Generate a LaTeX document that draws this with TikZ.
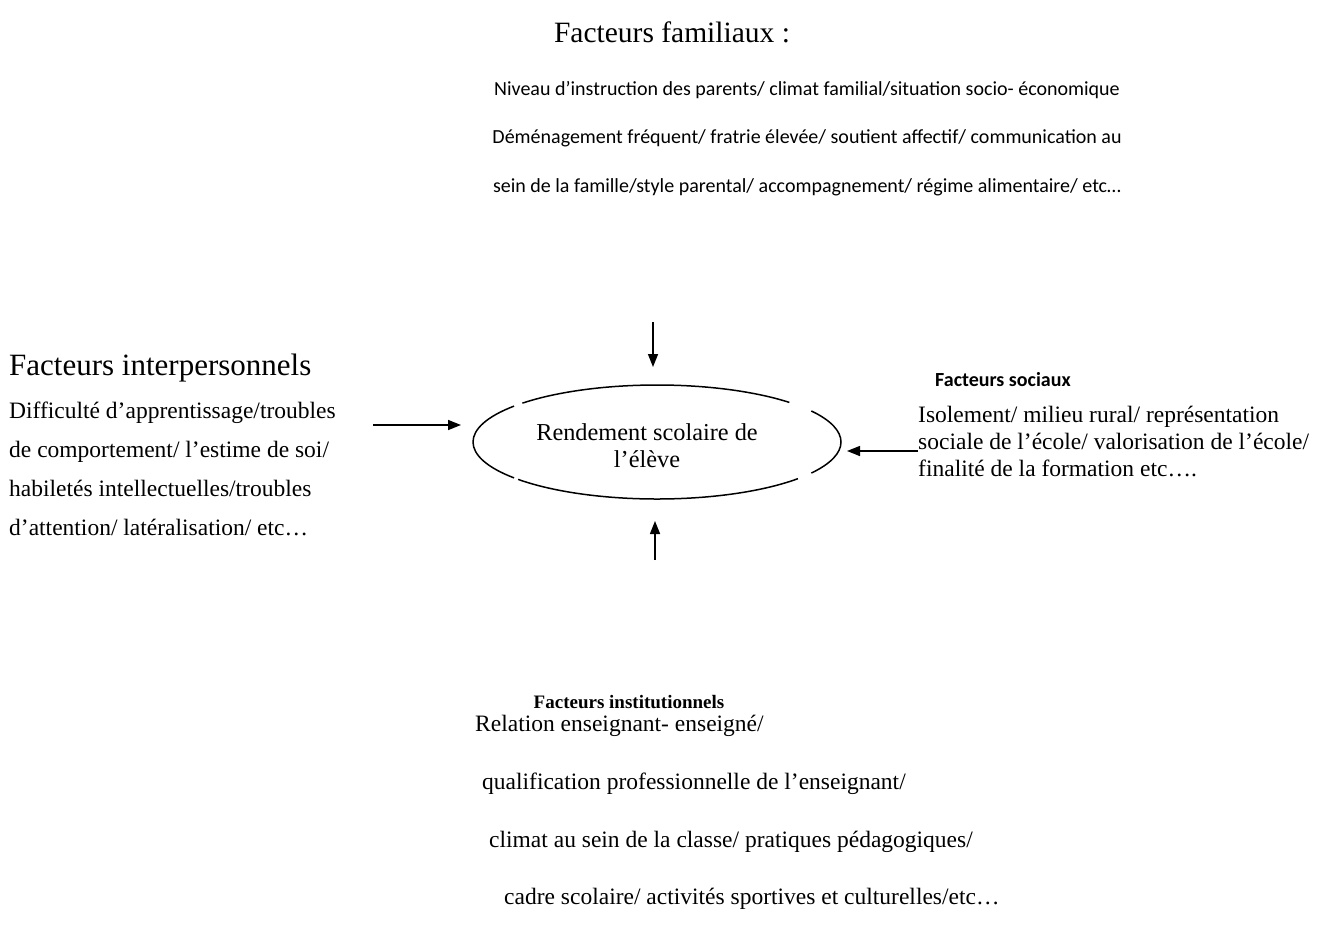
\documentclass[tikz,border=0pt]{standalone}
\usepackage{fontspec}
\setmainfont{Liberation Serif}
\newfontfamily\calfont{Carlito}
\usetikzlibrary{arrows.meta,shapes.geometric,calc}
\begin{document}
\begin{tikzpicture}[x=1pt,y=-1pt,
  txt/.style={inner sep=0pt,anchor=base west,font=\fontsize{23.5}{28}\selectfont},
  cal/.style={inner sep=0pt,anchor=base,font=\calfont\fontsize{20}{24}\selectfont},
  head/.style={inner sep=0pt,anchor=base west,font=\fontsize{31}{36}\selectfont},
  arr/.style={line width=1.5pt,-{Triangle[length=13pt,width=10pt]}},
  ell/.style={line width=1.5pt}]
\useasboundingbox (0,0) rectangle (1333,924);
% top block
\node[inner sep=0pt,anchor=base,font=\fontsize{29.5}{36}\selectfont] (famH) at (672,42) {Facteurs familiaux :};
\node[cal] (fam1) at (807,95) {Niveau d’instruction des parents/ climat familial/situation socio- économique};
\node[cal] (fam2) at (807,143) {Déménagement fréquent/ fratrie élevée/ soutient affectif/ communication au};
\node[cal] (fam3) at (807,192) {sein de la famille/style parental/ accompagnement/ régime alimentaire/ etc…};
% left block
\node[head] (intH) at (9,375) {Facteurs interpersonnels};
\node[txt] (int1) at (9,418) {Difficulté d’apprentissage/troubles};
\node[txt] (int2) at (9,457) {de comportement/ l’estime de soi/};
\node[txt] (int3) at (9,496) {habiletés intellectuelles/troubles};
\node[txt] (int4) at (9,535) {d’attention/ latéralisation/ etc…};
% right block
\node[inner sep=0pt,anchor=base,font=\calfont\bfseries\fontsize{20}{24}\selectfont] (socH) at (1003,386) {Facteurs sociaux};
\node[txt] (soc1) at (918,422) {Isolement/ milieu rural/ représentation};
\node[txt] (soc2) at (918,449) {sociale de l’école/ valorisation de l’école/};
\node[txt] (soc3) at (918,476) {finalité de la formation etc….};
% bottom block
\node[inner sep=0pt,anchor=base,font=\bfseries\fontsize{19}{24}\selectfont] (insH) at (629,708) {Facteurs institutionnels};
\node[txt] (ins1) at (475,731) {Relation enseignant- enseigné/};
\node[txt] (ins2) at (482,789) {qualification professionnelle de l’enseignant/};
\node[txt] (ins3) at (489,847) {climat au sein de la classe/ pratiques pédagogiques/};
\node[txt] (ins4) at (504,904) {cadre scolaire/ activités sportives et culturelles/etc…};
% centre ellipse
\node[ellipse,minimum width=368pt,minimum height=114pt,inner sep=0pt] (perf) at (657,442) {};
\node[inner sep=0pt,align=center,font=\fontsize{24.3}{27}\selectfont] (perfT) at (647,446) {Rendement scolaire de\\l’élève};
\draw[ell] ($(perf.center)+(40:184 and 57)$) arc[start angle=40,end angle=139,x radius=184,y radius=57];
\draw[ell] ($(perf.center)+(141:184 and 57)$) arc[start angle=141,end angle=219,x radius=184,y radius=57];
\draw[ell] ($(perf.center)+(223:184 and 57)$) arc[start angle=223,end angle=316,x radius=184,y radius=57];
\draw[ell] ($(perf.center)+(-33:184 and 57)$) arc[start angle=-33,end angle=33,x radius=184,y radius=57];
% arrows
\coordinate (tA) at (653,322); \coordinate (tB) at (653,367);
\coordinate (bA) at (655,560); \coordinate (bB) at (655,521);
\coordinate (lA) at (373,425); \coordinate (lB) at (461,425);
\coordinate (rA) at (918,451); \coordinate (rB) at (847,451);
\draw[arr] (tA) -- (tB);
\draw[arr] (bA) -- (bB);
\draw[arr] (lA) -- (lB);
\draw[arr] (rA) -- (rB);
\end{tikzpicture}
\end{document}
